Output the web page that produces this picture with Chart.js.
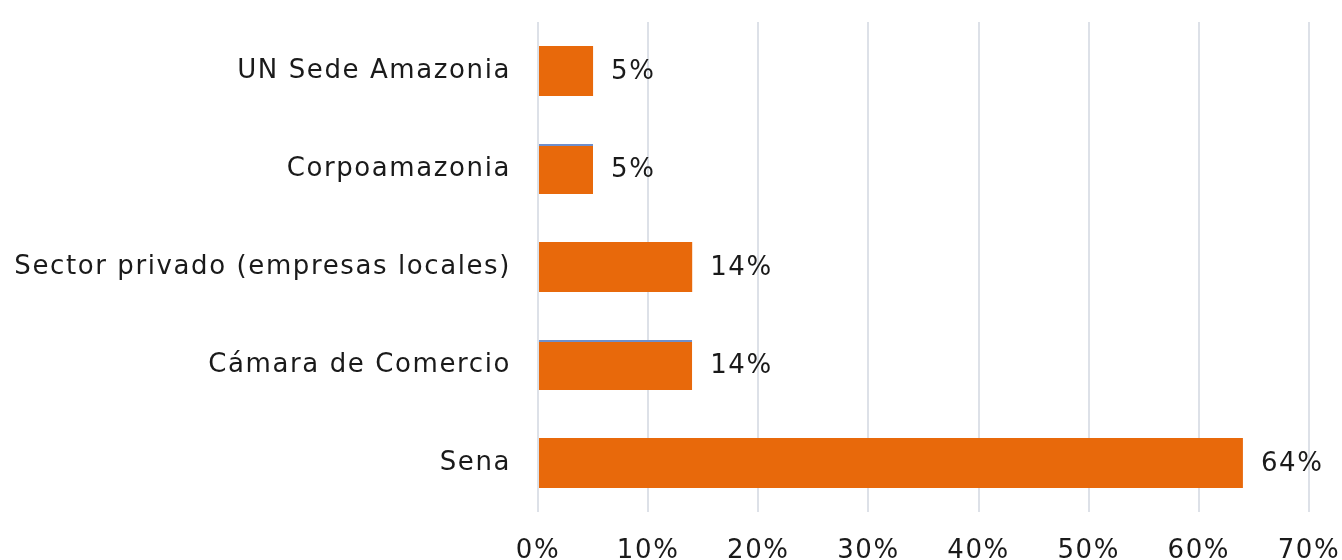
<!DOCTYPE html>
<html>
<head>
<meta charset="utf-8">
<script src="https://cdn.jsdelivr.net/npm/chart.js@4.4.1/dist/chart.umd.min.js"></script>
<style>
html,body{margin:0;padding:0;background:#fff;}
#wrap{width:1342px;height:560px;}
</style>
</head>
<body>
<div id="wrap"><canvas id="chart" width="1342" height="560"></canvas></div>
<script>

// data
let categories = [
"UN Sede Amazonia",
"Corpoamazonia",
"Sector privado (empresas locales)",
"Cámara de Comercio",
"Sena"
];

let values = [5, 5, 14, 14, 64];

let tickValues = [0, 10, 20, 30, 40, 50, 60, 70];

let fontName = "'DejaVu Sans', sans-serif";

let spacing = "1.6px";

// wider letters, the original font is broad
let widen = {

    id:"widen",

    beforeDraw(chart){
        chart.ctx.letterSpacing = spacing;
    }
};

// draws the % label next to each bar
let valueLabels = {

    id:"valueLabels",

    afterDatasetsDraw(chart){

        let ctx = chart.ctx;

        let meta = chart.getDatasetMeta(0);

        ctx.save();

        ctx.letterSpacing = spacing;

        ctx.font = "26px " + fontName;

        ctx.fillStyle = "#1a1a1a";

        ctx.textAlign = "left";

        ctx.textBaseline = "middle";

        meta.data.forEach((bar, i) => {

            ctx.fillText(
            values[i] + "%",
            bar.x + 18,
            bar.y + 1
            );

        });

        ctx.restore();
    }
};

new Chart(

document.getElementById("chart"),

{
    type:"bar",

    data:{

        labels:categories,

        datasets:[{

            data:values,

            backgroundColor:"#E8690B",

            borderColor:"#6F8FCC",

            borderWidth:ctx =>
            (ctx.dataIndex === 1 || ctx.dataIndex === 3)
            ? {top:2, right:0, bottom:0, left:0}
            : 0,

            borderSkipped:false,

            categoryPercentage:0.51,

            barPercentage:1

        }]
    },

    options:{

        indexAxis:"y",

        responsive:false,

        animation:false,

        layout:{
            padding:{top:22, right:33, bottom:0, left:0}
        },

        plugins:{
            legend:{display:false},
            tooltip:{enabled:false}
        },

        scales:{

            x:{

                min:0,
                max:70,

                afterBuildTicks:scale => {
                    scale.ticks = tickValues.map(v => ({value:v}));
                },

                afterFit:scale => {
                    scale.height = 48;
                    scale.paddingLeft = 0;
                    scale.paddingRight = 0;
                },

                grid:{
                    color:"#dde1e8",
                    lineWidth:2,
                    drawTicks:false
                },

                border:{display:false},

                ticks:{
                    padding:24,
                    color:"#1a1a1a",
                    font:{family:fontName, size:26},
                    callback:v => v + "%"
                }
            },

            y:{

                afterFit:scale => {
                    scale.width = 538;
                    scale.paddingTop = 0;
                    scale.paddingBottom = 0;
                },

                grid:{display:false, drawTicks:false},

                border:{display:false},

                ticks:{
                    padding:27,
                    color:"#1a1a1a",
                    font:{family:fontName, size:26}
                }
            }
        }
    },

    plugins:[widen, valueLabels]

});

</script>
</body>
</html>
